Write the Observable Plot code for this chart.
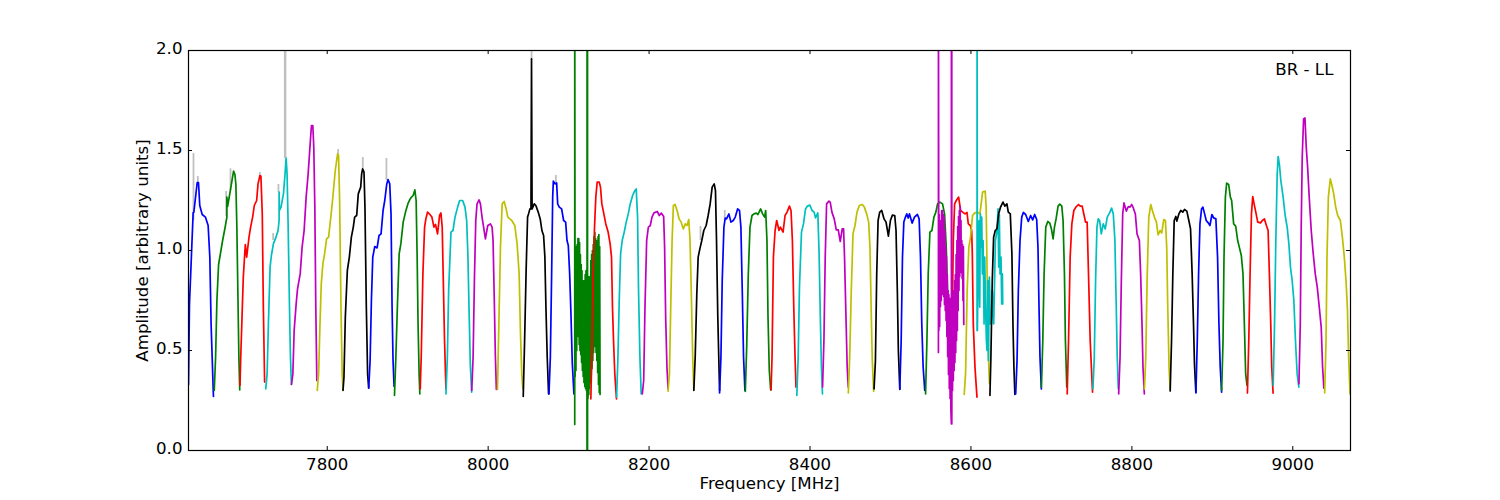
<!DOCTYPE html>
<html><head><meta charset="utf-8">
<script src="https://cdn.jsdelivr.net/npm/d3@7"></script>
<script src="https://cdn.jsdelivr.net/npm/@observablehq/plot@0.6"></script>
<style>html,body{margin:0;padding:0;background:#fff}svg{display:block}</style>
</head><body><div id="chart"></div>
<script>
const b00=[[0,.33],[1.2,.73],[3.7,.98],[5.8,1.19],[6.6,1.19],[8.3,1.25],[10.8,1.34],[12.4,1.34],[14,1.225],[17,1.18],[21,1.167],[24.4,1.125],[26.5,.967],[28.1,.63],[31,.27]];
const b01=[[0,.3],[1.7,.47],[3.3,.75],[5.4,.93],[7.5,.98],[10.4,1.05],[13.7,1.12],[15.7,1.167],[15.7,1.267],[16.6,1.22],[20.7,1.317],[24,1.397],[25.7,1.38],[26.9,1.33],[28.1,1.117],[30.6,.467],[31.7,.303]];
const b02=[[0,.325],[.8,.45],[2.9,.717],[4.1,.867],[6.6,1.03],[8.3,.967],[11.2,1.067],[13.2,1.117],[15.7,1.167],[17.8,1.225],[20.7,1.25],[22.4,1.333],[24.8,1.375],[26,1.372],[27.7,1.18],[29,.717],[30.6,.342]];
const b03=[[0,.308],[1.7,.383],[3.3,.633],[5.4,.917],[7,.975],[9.5,1.033],[12.4,1.063],[15.3,1.1],[16.6,1.15],[16.6,1.292],[17,1.2],[19,1.217],[22,1.283],[24,1.383],[25.3,1.462],[26.5,1.383],[27.8,1.133],[29.5,.717],[30.7,.467],[31.9,.33]];
const b04=[[0,.33],[1.7,.383],[3.3,.6],[5.8,.733],[7.5,.808],[10.8,.883],[13.2,1.017],[15.7,1.1],[18.2,1.267],[20.7,1.383],[23.2,1.533],[24.8,1.625],[26.5,1.625],[27.7,1.517],[29,1.217],[30.2,.717],[31.5,.35]];
const b05=[[0,.3],[1.7,.383],[3.3,.617],[5,.833],[7,.933],[9.1,.983],[11.6,1.058],[14.1,1.067],[16.6,1.158],[19,1.25],[22.4,1.4],[25.3,1.483],[26.5,1.475],[27.8,1.25],[29.5,.717],[31,.383],[32,.303]];
const b06=[[0,.3],[1.2,.367],[2.9,.667],[5.4,.9],[7.9,.967],[10.4,1.067],[12.8,1.117],[14.5,1.167],[17,1.175],[19,1.283],[22,1.317],[23.2,1.383],[24.4,1.408],[26.1,1.392],[27.3,1.217],[29,.717],[30.6,.383],[31.9,.313]];
const b07=[[0,.312],[1.7,.45],[3.3,.75],[5,.967],[7.5,1.02],[10.4,1.013],[12.8,1.075],[15.3,1.083],[17.8,1.2],[19.9,1.25],[22.4,1.333],[24,1.355],[26.1,1.333],[27.7,1.183],[29,.717],[30.2,.45],[31.5,.32]];
const b08=[[0,.275],[1.7,.467],[3.7,.733],[5.8,.983],[7.9,1.033],[10.8,1.142],[13.7,1.192],[16.6,1.233],[19.5,1.258],[21.1,1.267],[23.2,1.275],[25.3,1.303],[26.9,1.25],[28.1,.983],[29.3,.633],[30.6,.383],[31.5,.283]];
const b09=[[0,.308],[1.2,.467],[3.3,.883],[5.4,1.117],[7,1.158],[9.1,1.192],[12,1.18],[14.5,1.167],[17,1.117],[19,1.13],[21.5,1.083],[24,1.175],[25.7,1.188],[27.3,1.117],[29,.783],[30.2,.55],[31.9,.308]];
const b10=[[0,.283],[1.7,.467],[3.3,.8],[6.2,1.092],[8.7,1.1],[11.2,1.167],[14.5,1.217],[17,1.25],[20.7,1.25],[23.6,1.217],[25.7,1.15],[27.3,.967],[28.6,.717],[30.2,.433],[31.9,.292]];
const b11=[[0,.3],[1.7,.467],[3.3,.85],[5,1.15],[6.6,1.233],[9.1,1.253],[10.8,1.233],[12.8,1.167],[17,1.058],[19.9,1.125],[23.2,1.133],[25.3,1.117],[26.5,1.05],[28.2,.717],[29.4,.467],[30.6,.305]];
const b12=[[0,.305],[1.7,.633],[3.7,1.017],[5.8,1.233],[8.3,1.245],[10.8,1.208],[12.8,1.167],[15.3,1.158],[17.8,1.15],[21.5,1.125],[24.4,1.033],[26.9,.883],[28.6,.583],[30.2,.383],[31.5,.308]];
const b13=[[0,.27],[1.7,.55],[3.7,.917],[5.4,1.167],[6.6,1.183],[8.3,1.208],[9.6,1.208],[10.3,1.958],[11,1.208],[13.7,1.233],[15.7,1.225],[18.6,1.192],[21.1,1.158],[23.2,1.1],[25.3,1.075],[26.9,.967],[28.2,.717],[29.8,.467],[31.5,.283]];
const b14=[[0,.283],[1.7,.467],[3.3,.883],[4.6,1.267],[5.4,1.347],[7.5,1.333],[9.5,1.338],[10.8,1.233],[12.8,1.217],[15.7,1.208],[18.2,1.15],[20.7,1.142],[22.4,1.05],[24,1.025],[25.7,.883],[27.3,.683],[29,.433],[31,.283]];
const b15=[[0,.13],[0,2.5],[.5,.37],[1,1.02],[1.5,.4],[2,1],[2.5,.5],[3,1.03],[3.5,.57],[4,1.06],[4.5,.58],[5,1.06],[5.5,.53],[6,1.04],[6.5,.5],[7,.98],[7.5,.48],[8,.93],[8.5,.44],[9,.9],[9.5,.4],[10,.85],[10.5,.37],[11,.82],[11.5,.34],[12,.85],[12.5,.32],[13,.88],[13.5,.31],[14,.9],[14.5,.3],[15,.82],[15.3,-.1],[15.3,2.5],[15.9,2.5],[15.9,-.1],[16,.88],[16.5,.26],[17,.87],[17.5,.28],[18,.85],[18.5,.31],[19,.87],[19.5,.34],[20,.95],[20.5,.37],[21,.98],[21.5,.41],[22,1],[22.5,.45],[23,1.03],[23.5,.49],[24,1.07],[24.5,.52],[25,1.09],[25.5,.53],[26,1.06],[26.5,.49],[27,1.03],[27.5,.45],[28,1.05],[28.5,.39],[29,1.07],[29.5,.33],[30,1.08],[30.5,.29],[31,1.02],[31.5,.28]];
const b16=[[0,.258],[1.2,.467],[2.9,.883],[4.6,1.117],[6.2,1.267],[7.9,1.342],[10.4,1.342],[12,1.317],[13.7,1.233],[16.2,1.183],[18.6,1.133],[21.5,1.092],[24,1.033],[25.7,.967],[26.9,.717],[28.2,.55],[29.8,.383],[31.9,.258]];
const b17=[[0,.267],[1.7,.467],[3.3,.75],[5,.983],[7,1.05],[9.5,1.092],[12,1.142],[14.5,1.183],[17,1.233],[19.9,1.275],[22.4,1.297],[24.4,1.308],[26.1,1.167],[27.3,.8],[29,.467],[30.6,.283]];
const b18=[[0,.283],[1.7,.35],[3.3,.717],[5.4,1.05],[7.5,1.117],[9.9,1.125],[12,1.167],[14.5,1.188],[18.6,1.195],[21.1,1.175],[23.6,1.187],[26.5,1.17],[27.7,1.017],[29,.667],[30.6,.417],[32,.308]];
const b19=[[0,.297],[1.7,.383],[3.3,.717],[5,1.05],[6.6,1.225],[8.7,1.23],[11.2,1.2],[13.7,1.158],[16.2,1.142],[19,1.108],[21.5,1.133],[23.6,1.125],[25.7,1.155],[27.3,1.05],[29,.767],[30.6,.467],[32,.303]];
const b20=[[0,.3],[1.7,.467],[3.7,.783],[5.4,.967],[7.5,1.008],[9.9,1.05],[12.4,1.1],[15.3,1.125],[17.8,1.175],[20.3,1.233],[22.8,1.317],[25.3,1.333],[26.9,1.3],[28.2,1.05],[29.8,.667],[31.5,.383],[32,.3]];
const b21=[[0,.288],[1.7,.467],[3.3,.85],[5.4,1.117],[7,1.162],[8.7,1.158],[11.6,1.183],[14.1,1.142],[17,1.15],[19.5,1.167],[22.4,1.208],[24.8,1.2],[26.5,1.117],[28.2,.8],[29.8,.467],[31.5,.3]];
const b22=[[0,.295],[1.7,.517],[3.7,.883],[5.8,1.117],[8.3,1.175],[10.8,1.183],[13.7,1.187],[15.7,1.18],[19,1.208],[21.5,1.183],[24,1.167],[25.3,1.2],[26.9,1.05],[28.2,.667],[29.8,.4],[31.5,.303]];
const b23=[[0,.303],[1.2,.467],[2.9,.967],[5,1.1],[7,1.15],[9.9,1.1],[11.6,1.117],[14.9,1.092],[17.4,1.175],[19.9,1.192],[22.8,1.222],[24.8,1.2],[26.5,1.05],[28.2,.717],[29.8,.467],[31,.317]];
const b24=[[0,.275],[1.7,.467],[3.3,.817],[5.8,1.092],[8.3,1.133],[10.8,1.208],[13.2,1.222],[16.2,1.227],[19,1.2],[21.5,1.192],[23.2,1.163],[26.1,1.188],[27.7,.983],[29.4,.633],[30.6,.417],[31.9,.283]];
const b25=[[0,.317],[1.7,.55],[3.3,.967],[5,1.233],[7.9,1.247],[9.5,1.242],[11.6,1.192],[14.5,1.158],[17,1.103],[19.5,1.103],[22,1.045],[24.4,1.108],[26.1,1.108],[27.3,.967],[29,.683],[30.6,.417],[31.9,.317]];
const b26=[[0,.288],[1.7,.467],[3.7,.8],[5.8,1.083],[8.3,1.125],[10.8,1.192],[13.7,1.225],[17.4,1.23],[19.9,1.217],[22.8,1.183],[25.3,1.142],[26.9,1.017],[28.6,.667],[29.8,.45],[31.5,.295]];
const b27=[[0,.308],[1.7,.45],[3.3,.883],[5,1.15],[7,1.192],[9.5,1.2],[12.4,1.158],[14.9,1.142],[17.8,1.072],[20.3,1.15],[22.8,1.177],[25.7,1.175],[27.3,1.1],[29,.783],[30.2,.5],[32,.305]];
const b28=[[0,.308],[1.7,.55],[3.3,.967],[5,1.142],[7,1.167],[8.7,1.183],[10.4,1.162],[12,1.183],[15.3,1.137],[18.2,1.167],[21.9,1.18],[24,1.158],[25.7,.967],[27.3,.633],[29,.417],[31,.3]];
const b29=[[0,.283],[1.7,.55],[3.3,.883],[5.4,1.092],[7.9,1.1],[10.4,1.167],[12.8,1.192],[14.9,1.233],[17.8,1.242],[21.1,1.233],[23.6,1.183],[25.7,1.017],[27.3,.8],[29,.717],[31,.467],[32,.317]];
const b31=[[0,.38],[1.2,.68],[2.5,1.05],[4.1,1.233],[6.2,1.25],[9.1,1.267],[11.6,1.2],[14.1,1.192],[17,1.183],[19.5,1.19],[21.1,1.133],[23.6,1.125],[25.3,1.1],[26.1,.983],[27.3,.633],[29.4,.417],[31.9,.267]];
const b30=[[0,.49],[0,2.5],[.5,.6],[1,1.18],[1.5,.62],[2,1.1],[2.5,.72],[3,1.15],[3.5,.75],[4,1.2],[4.5,.78],[5,1.2],[5.5,.78],[6,1.18],[6.5,.77],[7,1.17],[7.5,.73],[8,1.1],[8.5,.7],[9,1.02],[9.5,.65],[10,.97],[10.5,.57],[11,.88],[11.5,.47],[12,.8],[12.5,.38],[13,.78],[13.5,.31],[14,.76],[14.5,.26],[15,.76],[15.5,.2],[16.1,.133],[16.1,2.5],[16.6,2.5],[16.6,.133],[17,.72],[17.5,.3],[18,.78],[18.5,.35],[19,.8],[19.5,.4],[20,.85],[20.5,.44],[21,.88],[21.5,.49],[22,.98],[22.5,.55],[23,1.05],[23.5,.6],[24,1.12],[24.5,.7],[25,1.17],[25.5,.8],[26,1.2],[26.5,.87],[27,1.22],[27.5,.89],[28,1.15],[28.5,.89],[29,1.05],[29.5,.86],[30,1.03],[30.5,.75],[31,1.02],[31.5,.63]];
const b32=[[0,.28],[1.7,.383],[3.7,.8],[5.8,1.017],[7.9,1.067],[10.4,1.175],[12.8,1.187],[16.2,1.192],[19.5,1.183],[21.1,1.233],[22.8,1.292],[26.1,1.297],[27.3,1.217],[28.2,.967],[29.4,.633],[30.6,.417],[31.5,.333]];
const b33=[[0,.6],[0,2.5],[.4,.6],[.8,.717],[1.7,.883],[2.5,1.15],[3.3,.717],[4.1,1.183],[5,1.017],[5.8,1.167],[6.6,.883],[7.5,1.05],[8.7,.633],[9.5,.967],[10.4,.75],[11.6,.55],[12.4,.5],[13.2,.85],[14.1,.45],[15.3,.867],[16.6,.633],[17.8,.633],[19,.8],[20.7,.633],[22.8,1.05],[24.8,1.1],[26.1,1.208],[26.9,.917],[27.7,1.18],[28.6,.883],[29.8,.967],[30.6,.733],[31.5,.883],[31.9,.733]];
const b34=[[0,.275],[1.2,.467],[2.9,.85],[4.6,1.067],[6.6,1.1],[8.7,1.108],[10.8,1.183],[13.2,1.217],[16.2,1.242],[18.6,1.222],[21.1,1.233],[22.8,1.192],[25.3,1.183],[27.3,.983],[28.6,.633],[29.8,.417],[31,.28]];
const b35=[[0,.283],[1.7,.45],[3.3,.8],[5.4,1.05],[7.5,1.167],[9.5,1.19],[12.4,1.18],[15.7,1.145],[18.6,1.175],[21.1,1.153],[23.6,1.18],[26.1,1.155],[27.7,1.017],[29,.717],[30.2,.467],[31.9,.308]];
const b36=[[0,.317],[1.7,.55],[3.3,.883],[5.4,1.117],[7.9,1.145],[10.4,1.137],[12.4,1.108],[14.5,1.058],[16.2,1.117],[18.2,1.158],[20.7,1.222],[22.8,1.232],[25.3,1.222],[26.9,1.15],[28.6,.883],[29.8,.55],[31.5,.317]];
const b37=[[0,.283],[1.7,.55],[3.7,.967],[5.8,1.133],[8.3,1.2],[10.8,1.217],[14.1,1.23],[16.2,1.222],[18.6,1.222],[21.1,1.175],[22.8,1.142],[24.8,1.142],[26.5,.883],[28.6,.55],[31.5,.292]];
const b38=[[0,.308],[1.7,.467],[3.3,.85],[5,1.117],[6.6,1.158],[8.3,1.15],[10.4,1.083],[12.8,1.133],[15.3,1.108],[17.8,1.167],[20.7,1.188],[23.2,1.212],[25.3,1.183],[27.3,1.05],[29,.717],[30.2,.467],[31.5,.308]];
const b39=[[0,.283],[1.7,.467],[3.3,.85],[5,1.183],[6.6,1.238],[9.5,1.197],[12,1.22],[14.1,1.217],[16.2,1.23],[18.2,1.213],[20.7,1.183],[22.8,1.083],[25.7,1.05],[27.3,.883],[29,.633],[30.2,.417],[31.9,.283]];
const b40=[[0,.308],[1.7,.467],[3.3,.85],[5.4,1.167],[7.9,1.23],[9.9,1.2],[12.4,1.167],[14.9,1.142],[17,1.078],[19.5,1.1],[21.5,1.087],[24,1.155],[26.1,1.15],[27.7,1.017],[29,.717],[30.6,.417],[31.9,.308]];
const b41=[[0,.297],[1.7,.55],[3.3,.883],[5,1.15],[7,1.17],[8.3,1.147],[10.8,1.183],[13.2,1.2],[15.7,1.192],[17.8,1.205],[20.7,1.197],[23.2,1.15],[25.3,1.108],[27.3,.883],[29,.633],[30.2,.433],[31.9,.292]];
const b42=[[0,.288],[1.7,.55],[3.3,.883],[5,1.133],[7,1.208],[8.7,1.217],[10.8,1.183],[12.8,1.15],[15.3,1.138],[17.4,1.125],[19.9,1.18],[22,1.163],[24.8,1.158],[26.9,.967],[28.6,.633],[30.2,.417],[31.9,.292]];
const b43=[[0,.3],[1.7,.55],[2.9,.967],[4.6,1.267],[6.2,1.337],[8.7,1.33],[10.8,1.267],[12.4,1.25],[14.9,1.133],[17.4,1.122],[19.9,1.05],[21.9,1.017],[24.4,.975],[26.5,.883],[28.2,.633],[29.8,.383],[31.5,.325]];
const b44=[[0,.287],[1.7,.55],[3.3,.883],[5,1.183],[6.6,1.27],[8.3,1.233],[10.4,1.192],[12.8,1.142],[16.2,1.138],[18.6,1.15],[21.1,1.158],[23.6,1.125],[25.7,1.1],[27.3,.883],[29,.633],[30.2,.417],[31.9,.287]];
const b45=[[0,.325],[1.7,.633],[3.3,1.05],[5,1.383],[6.2,1.47],[7.9,1.425],[9.5,1.35],[12.4,1.267],[14.9,1.175],[17.4,1.117],[19.5,1.033],[21.5,.917],[23.6,.85],[25.7,.75],[27.7,.55],[29.8,.383],[31.9,.317]];
const b46=[[0,.333],[1.7,.633],[2.9,1.133],[4.1,1.467],[5.8,1.658],[7.5,1.663],[9.1,1.517],[10.8,1.417],[12.8,1.267],[15.3,1.1],[17.8,.983],[20.3,.883],[22.8,.817],[25.3,.717],[27.7,.617],[29.4,.417],[31,.312]];
const b47=[[0,.288],[1.7,.55],[2.9,.967],[4.6,1.267],[7,1.358],[9.1,1.325],[11.2,1.283],[13.7,1.217],[16.2,1.175],[19.5,1.15],[22,1.067],[24.4,.967],[26.5,.85],[28.2,.717],[29.8,.467],[31.5,.283]];

const bandData=[b00,b01,b02,b03,b04,b05,b06,b07,b08,b09,b10,b11,b12,b13,b14,b15,b16,b17,b18,b19,b20,b21,b22,b23,b24,b25,b26,b27,b28,b29,b31,b30,b32,b33,b34,b35,b36,b37,b38,b39,b40,b41,b42,b43,b44,b45,b46,b47];
const bandStart=[7627.6,7659.6,7691.6,7723.6,7755.6,7787.6,7819.6,7851.6,7883.6,7915.6,7947.6,7979.6,8011.6,8043.6,8075.6,8107.6,8127.6,8159.6,8191.6,8223.6,8255.6,8287.6,8319.6,8351.6,8383.6,8415.6,8447.6,8479.6,8511.6,8543.6,8575.6,8559.6,8591.6,8607.6,8623.6,8655.6,8687.6,8719.6,8751.6,8783.6,8815.6,8847.6,8879.6,8911.6,8943.6,8975.6,9007.6,9039.6];
const B="#0000ff",G="#008000",R="#ff0000",C="#00bfbf",M="#bf00bf",Y="#bfbf00",K="#000000";
const bandColor=[B,G,R,C,M,Y,K,B,G,R,C,M,Y,K,B,G,R,C,M,Y,K,B,G,R,C,M,Y,K,B,G,R,M,Y,C,K,B,G,R,C,M,Y,K,B,G,R,C,M,Y];

const spikeFreq=[7633.8,7639.2,7674.4,7679.8,7716.2,7732.8,7739.4,7747.7,7813.6,7844.2,7873.6,8053.9,8084.1,8263.9,8294];
const spikeLow=[1.15,1.33,1.17,1.3,1.36,1.05,1.29,1.46,1.48,1.41,1.35,1.95,1.33,1.05,1.15];
const spikeHigh=[1.485,1.37,1.295,1.408,1.39,1.085,1.33,2.0,1.505,1.465,1.46,2.0,1.375,1.12,1.2];

const xTicks=[7800,8000,8200,8400,8600,8800,9000];
const yTicks=[0,0.5,1,1.5,2];
const xDomain=[7627.6,9071.7];
const yDomain=[0,2];
const annotation=[{f:9050.5,a:1.905,label:"BR - LL"}];

const spikes=spikeFreq.map((f,i)=>({f,lo:spikeLow[i],hi:spikeHigh[i]}));
const bandMarks=bandData.map((pts,i)=>Plot.line(pts.map(p=>({f:bandStart[i]+p[0],a:p[1]})),{x:"f",y:"a",stroke:bandColor[i],strokeWidth:1.7,clip:true}));

const fig=Plot.plot({
  width:1500,height:500,marginLeft:188,marginRight:150,marginTop:50,marginBottom:50,
  style:{fontFamily:"'DejaVu Sans'",fontSize:"16.67px",background:"#fff",color:"#000"},
  x:{domain:xDomain,range:[188,1350]},
  y:{domain:yDomain,range:[450,50]},
  marks:[
    Plot.ruleX(spikes.filter(d=>d.f!==7747.7),{x:"f",y1:"lo",y2:"hi",stroke:"#c0c0c0",strokeWidth:1.8,clip:true}),
    Plot.ruleX(spikes.filter(d=>d.f===7747.7),{x:"f",y1:"lo",y2:"hi",stroke:"#c0c0c0",strokeWidth:2.5,clip:true}),
    ...bandMarks,
    Plot.ruleX(xTicks,{x:d=>d,y1:0,y2:0.02,stroke:"#000",strokeWidth:1}),
    Plot.ruleX(xTicks,{x:d=>d,y1:1.98,y2:2,stroke:"#000",strokeWidth:1}),
    Plot.ruleY(yTicks,{y:d=>d,x1:xDomain[0],x2:xDomain[0]+5,stroke:"#000",strokeWidth:1}),
    Plot.ruleY(yTicks,{y:d=>d,x1:xDomain[1]-5,x2:xDomain[1],stroke:"#000",strokeWidth:1}),
    Plot.frame({stroke:"#000",strokeWidth:1.2}),
    Plot.axisX(xTicks,{anchor:"bottom",tickSize:0,tickPadding:8,fontSize:16.67,label:"Frequency [MHz]",labelAnchor:"center",labelArrow:"none",labelOffset:38.5,tickFormat:d=>String(d)}),
    Plot.axisY(yTicks,{anchor:"left",tickSize:0,tickPadding:6,dy:-1.5,fontSize:16.67,label:"Amplitude [arbitrary units]",labelAnchor:"center",labelArrow:"none",labelOffset:52,tickFormat:d=>d.toFixed(1)}),
    Plot.text(annotation,{x:"f",y:"a",text:"label",textAnchor:"end",lineAnchor:"middle",fontSize:16.67,fill:"#000"})
  ]
});
document.getElementById("chart").appendChild(fig);
</script></body></html>
